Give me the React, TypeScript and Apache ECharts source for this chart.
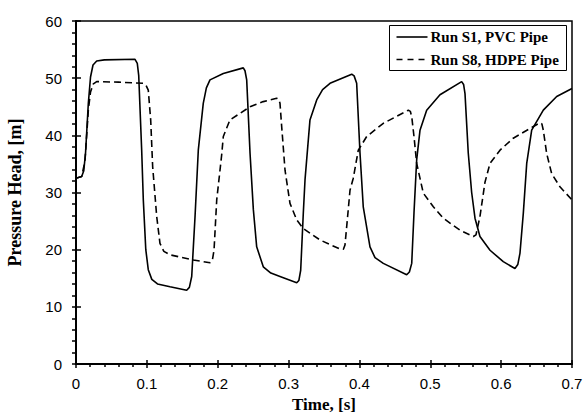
import React, { useEffect, useRef } from "react";
import * as echarts from "echarts";

const s1Time = [0, 0.008, 0.011, 0.0135, 0.0174, 0.0205, 0.024, 0.0292, 0.04, 0.0833, 0.0865, 0.0885, 0.0927, 0.095, 0.0985, 0.102, 0.107, 0.115, 0.1327, 0.1562, 0.16, 0.1633, 0.168, 0.1726, 0.1796, 0.184, 0.1891, 0.2079, 0.2361, 0.2385, 0.2409, 0.2456, 0.2503, 0.255, 0.2643, 0.275, 0.2879, 0.3115, 0.3145, 0.3171, 0.3208, 0.3232, 0.3302, 0.3397, 0.348, 0.3585, 0.3891, 0.3925, 0.3961, 0.4008, 0.4054, 0.4149, 0.422, 0.4337, 0.4667, 0.4705, 0.4738, 0.477, 0.4808, 0.4855, 0.4949, 0.5137, 0.5443, 0.547, 0.549, 0.5536, 0.5584, 0.5631, 0.5701, 0.5843, 0.603, 0.6195, 0.6235, 0.6266, 0.6313, 0.6361, 0.6431, 0.6595, 0.6784, 0.7];
const s1Head = [32.5, 32.8, 33.8, 37.0, 45.6, 50.2, 52.3, 53.0, 53.2, 53.3, 52.6, 50.5, 37.4, 28.7, 20.0, 16.5, 14.8, 14.0, 13.5, 12.9, 13.4, 15.3, 25.8, 37.4, 45.6, 48.3, 49.7, 50.8, 51.8, 51.3, 49.7, 36.9, 27.0, 20.5, 17.0, 15.9, 15.3, 14.2, 14.6, 16.4, 26.4, 32.2, 42.7, 46.2, 48.0, 49.1, 50.7, 50.4, 49.1, 36.9, 27.5, 20.5, 18.6, 17.6, 15.6, 16.1, 17.6, 26.4, 35.7, 40.9, 44.4, 47.1, 49.4, 48.9, 47.3, 36.9, 30.0, 25.5, 22.3, 19.9, 17.9, 16.7, 17.4, 19.4, 26.4, 35.1, 40.9, 44.4, 46.8, 48.2];

const s8Time = [0, 0.008, 0.0127, 0.0174, 0.0205, 0.0245, 0.0292, 0.06, 0.095, 0.099, 0.102, 0.1054, 0.1082, 0.1139, 0.1185, 0.124, 0.1327, 0.1655, 0.1891, 0.1925, 0.1948, 0.1986, 0.2056, 0.2079, 0.2173, 0.2456, 0.2643, 0.2832, 0.2862, 0.2879, 0.2903, 0.295, 0.302, 0.3115, 0.3208, 0.3443, 0.3726, 0.3775, 0.3796, 0.3829, 0.3867, 0.3913, 0.3984, 0.4103, 0.4337, 0.469, 0.4718, 0.4738, 0.477, 0.4808, 0.4901, 0.5043, 0.5183, 0.5419, 0.5607, 0.5645, 0.5701, 0.5772, 0.5843, 0.5984, 0.6171, 0.6407, 0.6548, 0.6575, 0.6595, 0.6643, 0.6713, 0.683, 0.7];
const s8Head = [32.5, 32.8, 35.5, 44.4, 47.6, 49.0, 49.4, 49.3, 49.1, 48.7, 47.9, 42.7, 34.5, 25.8, 21.1, 19.7, 19.1, 18.2, 17.7, 18.2, 19.9, 28.7, 36.6, 39.8, 42.7, 45.0, 45.9, 46.5, 46.3, 45.6, 41.5, 33.9, 28.1, 25.2, 23.7, 21.7, 20.1, 20.1, 20.8, 25.2, 30.4, 32.5, 37.4, 39.8, 42.1, 44.4, 44.2, 43.3, 39.8, 35.1, 29.9, 27.5, 25.5, 23.4, 22.3, 22.6, 25.8, 31.8, 35.1, 37.4, 39.5, 41.2, 42.2, 42.0, 40.9, 36.8, 33.3, 31.0, 28.7];

const seriesNames = ["Run S1, PVC Pipe", "Run S8, HDPE Pipe"];
const xTitle = "Time, [s]";
const yTitle = "Pressure Head, [m]";

const serif = "'Liberation Serif', 'Times New Roman', serif";
const sans = "'Liberation Sans', Arial, sans-serif";

export default function App() {
  const ref = useRef<HTMLDivElement>(null);
  useEffect(() => {
    if (!ref.current) return;
    const chart = echarts.init(ref.current, undefined, { renderer: "svg" });
    const xLabel = (v: number) => (v === 0 ? "0" : v.toFixed(1));
    const yLabel = (v: number) => String(Math.round(v));
    const ts = () => ({ color: "#000", width: 1.5 });
    const legendFont = `bold 15px ${serif}`;
    chart.setOption({
      animation: false,
      backgroundColor: "#fff",
      grid: {
        left: 76,
        right: 12,
        top: 21,
        bottom: 51,
        outerBoundsMode: "none",
        show: true,
        borderColor: "#000",
        borderWidth: 1.5,
        backgroundColor: "transparent",
      },
      xAxis: [
        {
          type: "value",
          min: 0,
          max: 0.7,
          interval: 0.1,
          name: xTitle,
          nameLocation: "middle",
          nameGap: 32,
          nameTextStyle: { fontFamily: serif, fontWeight: "bold", fontSize: 17, color: "#000" },
          axisLine: { show: true, onZero: false, lineStyle: { color: "#000", width: 2 } },
          axisTick: { show: true, inside: false, length: 4, lineStyle: ts() },
          minorTick: { show: true, splitNumber: 5, length: 3, lineStyle: ts() },
          axisLabel: { formatter: xLabel, fontFamily: sans, fontSize: 15, color: "#000", margin: 12 },
          splitLine: { show: false },
          minorSplitLine: { show: false },
        },
        {
          type: "value",
          min: 0,
          max: 0.7,
          interval: 0.1,
          position: "bottom",
          axisLine: { show: false },
          axisTick: { show: true, inside: true, length: 4, lineStyle: ts() },
          axisLabel: { show: false },
          splitLine: { show: false },
        },
      ],
      yAxis: [
        {
          type: "value",
          min: 0,
          max: 60,
          interval: 10,
          name: yTitle,
          nameLocation: "middle",
          nameGap: 52,
          nameTextStyle: { fontFamily: serif, fontWeight: "bold", fontSize: 18, color: "#000" },
          axisLine: { show: true, onZero: false, lineStyle: { color: "#000", width: 2 } },
          axisTick: { show: true, inside: false, length: 4, lineStyle: ts() },
          minorTick: { show: true, splitNumber: 5, length: 4, lineStyle: ts() },
          axisLabel: { formatter: yLabel, fontFamily: sans, fontSize: 15, color: "#000", margin: 14 },
          splitLine: { show: false },
          minorSplitLine: { show: false },
        },
        {
          type: "value",
          min: 0,
          max: 60,
          interval: 10,
          position: "left",
          axisLine: { show: false },
          axisTick: { show: true, inside: true, length: 5, lineStyle: ts() },
          axisLabel: { show: false },
          splitLine: { show: false },
        },
      ],
      graphic: [
        {
          type: "group",
          left: 389,
          top: 25,
          z: 100,
          children: [
            { type: "rect", shape: { x: 0, y: 0, width: 177, height: 45 }, style: { fill: "#fff", stroke: "#000", lineWidth: 1 } },
            { type: "line", shape: { x1: 7, y1: 11.5, x2: 38, y2: 11.5 }, style: { stroke: "#000", lineWidth: 1.6 } },
            { type: "line", shape: { x1: 7, y1: 34, x2: 38, y2: 34 }, style: { stroke: "#000", lineWidth: 1.6, lineDash: [6, 5] } },
            { type: "text", x: 41, y: 11.5, style: { text: seriesNames[0], font: legendFont, fill: "#000", verticalAlign: "middle" } },
            { type: "text", x: 41, y: 34, style: { text: seriesNames[1], font: legendFont, fill: "#000", verticalAlign: "middle" } },
          ],
        },
      ],
      series: [
        {
          name: seriesNames[0],
          type: "line",
          data: s1Time.map((t, i) => [t, s1Head[i]]),
          symbol: "none",
          smooth: false,
          lineStyle: { color: "#000", width: 1.6, type: "solid" },
          itemStyle: { color: "#000" },
        },
        {
          name: seriesNames[1],
          type: "line",
          data: s8Time.map((t, i) => [t, s8Head[i]]),
          symbol: "none",
          smooth: false,
          lineStyle: { color: "#000", width: 1.6, type: [7, 4] },
          itemStyle: { color: "#000" },
        },
      ],
    });
    return () => chart.dispose();
  }, []);
  return <div ref={ref} style={{ width: 584, height: 415, position: "absolute", left: 0, top: 0 }} />;
}
